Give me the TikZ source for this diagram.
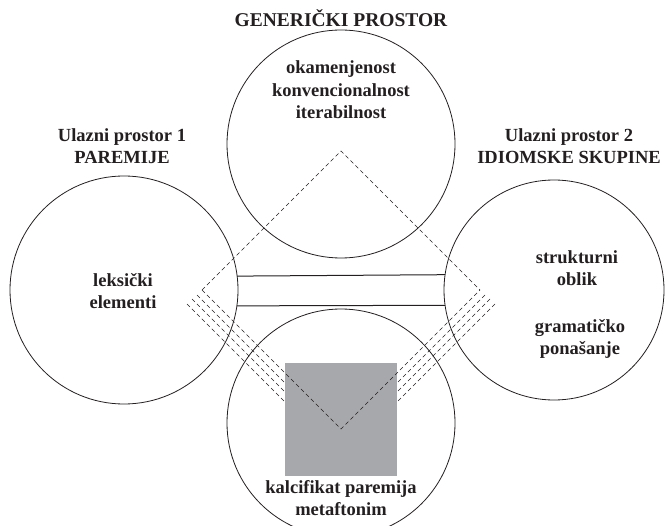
\documentclass[tikz,border=0pt]{standalone}
\usepackage{fontspec}
\setmainfont{Liberation Serif}
\definecolor{ink}{HTML}{231F20}
\definecolor{boxgray}{HTML}{A7A8AB}
\begin{document}
\begin{tikzpicture}[x=1pt,y=-1pt,
  circ/.style={circle,draw=ink,line width=0.8pt,minimum size=228pt,inner sep=0pt,outer sep=0pt},
  dline/.style={draw=ink,line width=0.6pt,dash pattern=on 4pt off 3pt},
  sline/.style={draw=ink,line width=1pt},
  lbl/.style={text=ink,font=\fontsize{18.5}{22.5}\selectfont\bfseries,align=center,inner sep=0pt}]
\useasboundingbox (0,0) rectangle (668,526);
\clip (0,0) rectangle (668,526);
% circles
\node[circ] (gen) at (341,144) {};
\node[circ] (lft) at (124,290) {};
\node[circ,minimum size=220pt] (rgt) at (554,290) {};
\node[circ] (bot) at (341,423) {};
% connecting lines
\draw[sline] (lft.7.6) -- (rgt.172);
\draw[sline] (lft.-8) -- (rgt.188.3);
% diamond
\coordinate (dT) at (341,151);
\coordinate (dL) at (202,290);
\coordinate (dR) at (480,290);
\coordinate (dB) at (341,429);
\draw[dline] (dL) -- (dT) -- (dR);
% extra parallel lines
\coordinate (la1) at (197,295); \coordinate (lb1) at (285,383);
\coordinate (la2) at (192,299); \coordinate (lb2) at (285,392);
\coordinate (la3) at (187,304); \coordinate (lb3) at (285,402);
\coordinate (ra1) at (485,295); \coordinate (rb1) at (397,383);
\coordinate (ra2) at (490,299); \coordinate (rb2) at (397,392);
\coordinate (ra3) at (495,304); \coordinate (rb3) at (397,402);
\draw[dline] (la1) -- (lb1);
\draw[dline] (la2) -- (lb2);
\draw[dline] (la3) -- (lb3);
\draw[dline] (ra1) -- (rb1);
\draw[dline] (ra2) -- (rb2);
\draw[dline] (ra3) -- (rb3);
% gray box
\node[fill=boxgray,minimum width=112pt,minimum height=113pt,inner sep=0pt] (box) at (341,419.5) {};
\draw[dline] (dL) -- (dB) -- (dR);
% labels
\node[lbl,font=\fontsize{19.5}{22}\selectfont\bfseries] (tgen) at (341,18) {GENERIČKI PROSTOR};
\node[lbl] (tgeni) at (341,90) {okamenjenost\\konvencionalnost\\iterabilnost};
\node[lbl] (tl) at (122,146) {Ulazni prostor 1\\PAREMIJE};
\node[lbl] (tr) at (569,146) {Ulazni prostor 2\\IDIOMSKE SKUPINE};
\node[lbl] (tli) at (123,291) {leksički\\elementi};
\node[lbl] (tr1) at (577,268) {strukturni\\oblik};
\node[lbl] (tr2) at (580,339) {gramatičko\\ponašanje};
\node[lbl] (tb) at (341,498) {kalcifikat paremija\\metaftonim};
\end{tikzpicture}
\end{document}
